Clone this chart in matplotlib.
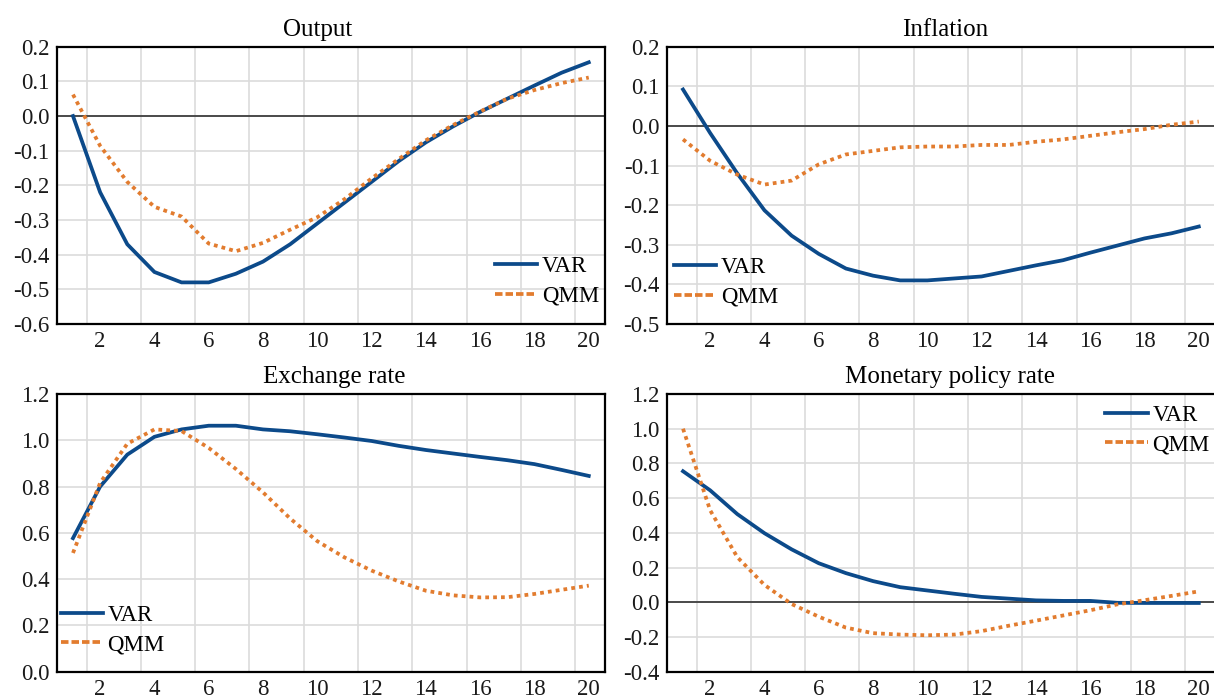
import matplotlib
matplotlib.use("Agg")
import matplotlib.pyplot as plt
from matplotlib.lines import Line2D
from matplotlib.ticker import FuncFormatter, FixedLocator

# ---------------- data ----------------
periods = list(range(1, 21))

output_var = [0.00, -0.22, -0.37, -0.45, -0.48, -0.48, -0.455, -0.42, -0.37, -0.31,
              -0.25, -0.19, -0.13, -0.076, -0.03, 0.012, 0.05, 0.088, 0.125, 0.155]
output_qmm = [0.062, -0.086, -0.19, -0.262, -0.29, -0.368, -0.39, -0.366, -0.328, -0.292,
              -0.24, -0.18, -0.124, -0.07, -0.026, 0.013, 0.05, 0.075, 0.095, 0.111]

inflation_var = [0.092, -0.018, -0.12, -0.213, -0.277, -0.323, -0.36, -0.378, -0.39, -0.39,
                 -0.385, -0.38, -0.366, -0.352, -0.339, -0.32, -0.302, -0.284, -0.271, -0.254]
inflation_qmm = [-0.034, -0.088, -0.123, -0.148, -0.138, -0.097, -0.072, -0.063, -0.054, -0.052,
                 -0.052, -0.048, -0.048, -0.04, -0.034, -0.025, -0.016, -0.008, 0.003, 0.011]

exchange_var = [0.577, 0.80, 0.938, 1.015, 1.047, 1.063, 1.063, 1.047, 1.039, 1.026,
                1.012, 0.997, 0.976, 0.958, 0.943, 0.928, 0.914, 0.897, 0.872, 0.846]
exchange_qmm = [0.513, 0.816, 0.985, 1.047, 1.04, 0.967, 0.876, 0.775, 0.662, 0.564,
                0.494, 0.437, 0.39, 0.35, 0.33, 0.321, 0.322, 0.336, 0.354, 0.372]

policy_var = [0.755, 0.645, 0.508, 0.398, 0.305, 0.225, 0.168, 0.122, 0.087, 0.068,
              0.049, 0.031, 0.021, 0.011, 0.008, 0.008, -0.003, -0.004, -0.004, -0.004]
policy_qmm = [1.0, 0.53, 0.26, 0.10, -0.01, -0.083, -0.146, -0.178, -0.186, -0.19,
              -0.186, -0.166, -0.135, -0.106, -0.076, -0.046, -0.012, 0.012, 0.037, 0.063]

titles = ["Output", "Inflation", "Exchange rate", "Monetary policy rate"]
series_names = ["VAR", "QMM"]
x_tick_labels = [2, 4, 6, 8, 10, 12, 14, 16, 18, 20]

# ---------------- style ----------------
plt.rcParams['font.family'] = ['Liberation Serif', 'DejaVu Serif']
BLUE = '#0C4A8A'
ORANGE = '#E27C2F'
GRID = '#DCDCDC'
LW = 2.7

fig = plt.figure(figsize=(12.14, 6.96), dpi=100)

W = 0.4517
H_TOP = 0.3984
H_BOT = 0.399
panels = [
    dict(rect=[0.0467, 0.5345, W, H_TOP], var=output_var, qmm=output_qmm,
         ylim=(-0.6, 0.2), step=0.1, title=titles[0], tx=0.475,
         leg=(0.799, 0.245)),
    dict(rect=[0.5492, 0.5345, W, H_TOP], var=inflation_var, qmm=inflation_qmm,
         ylim=(-0.5, 0.2), step=0.1, title=titles[1], tx=0.508,
         leg=(0.013, 0.241)),
    dict(rect=[0.0467, 0.0349, W, H_BOT], var=exchange_var, qmm=exchange_qmm,
         ylim=(0.0, 1.2), step=0.2, title=titles[2], tx=0.506,
         leg=(0.007, 0.242)),
    dict(rect=[0.5492, 0.0349, W, H_BOT], var=policy_var, qmm=policy_qmm,
         ylim=(-0.4, 1.2), step=0.2, title=titles[3], tx=0.517,
         leg=(0.80, 0.962)),
]

fmt = FuncFormatter(lambda v, p: ("%.1f" % v).replace('\u2212', '-') if abs(v) > 1e-9 else "0.0")

for p in panels:
    ax = fig.add_axes(p['rect'])
    ax.set_xlim(0.4, 20.6)
    lo, hi = p['ylim']
    ax.set_ylim(lo, hi)
    n = int(round((hi - lo) / p['step']))
    yt = [round(lo + i * p['step'], 2) for i in range(n + 1)]
    ax.yaxis.set_major_locator(FixedLocator(yt))
    ax.yaxis.set_major_formatter(fmt)
    ax.set_xticks(x_tick_labels)
    ax.set_xticklabels([str(v) for v in x_tick_labels])
    ax.tick_params(axis='both', length=0, labelsize=16.5, colors='#1a1a1a')
    ax.tick_params(axis='x', pad=5)
    ax.tick_params(axis='y', pad=5)

    # gridlines
    for yv in yt:
        ax.axhline(yv, color=GRID, lw=1.2, zorder=0)
    for xv in [1.5 + 2 * i for i in range(10)]:
        ax.axvline(xv, color=GRID, lw=1.2, zorder=0)
    ax.axhline(0, color='#222222', lw=1.1, zorder=1)

    for s in ax.spines.values():
        s.set_linewidth(1.6)
        s.set_color('black')

    ax.plot(periods, p['var'], color=BLUE, lw=LW, zorder=3, solid_joinstyle='miter')
    lq, = ax.plot(periods, p['qmm'], color=ORANGE, lw=LW, zorder=3)
    lq.set_dashes((1.0, 1.1))

    ax.set_title(p['title'], fontsize=18, pad=8, x=p['tx'])

    h1 = Line2D([], [], color=BLUE, lw=LW)
    h2 = Line2D([], [], color=ORANGE, lw=LW, dashes=(2.0, 0.8))
    ax.legend([h1, h2], series_names, loc='upper left', bbox_to_anchor=p['leg'],
              frameon=False, fontsize=16.5, handlelength=1.85, handletextpad=0.2,
              borderpad=0, borderaxespad=0, labelspacing=0.38)

fig.savefig('out.png', dpi=100)
